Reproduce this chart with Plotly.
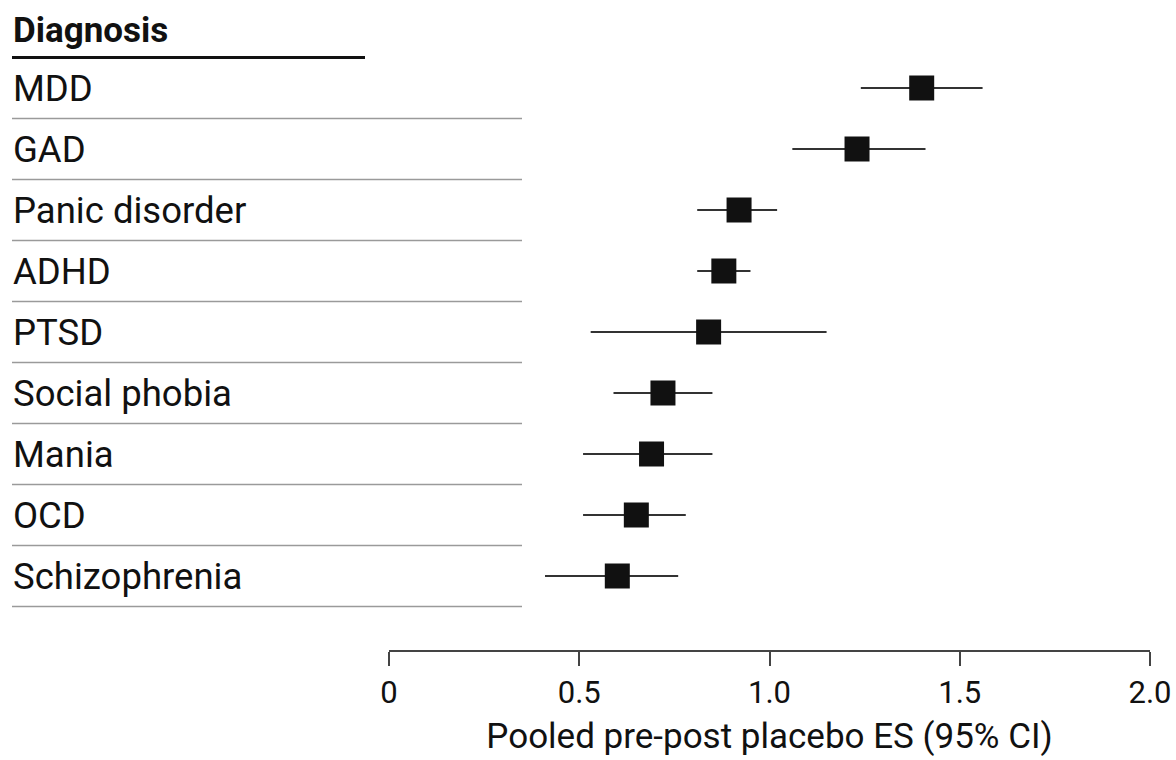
import plotly.graph_objects as go

diagnoses = ["MDD", "GAD", "Panic disorder", "ADHD", "PTSD",
             "Social phobia", "Mania", "OCD", "Schizophrenia"]
es = [1.40, 1.23, 0.92, 0.88, 0.84, 0.72, 0.69, 0.65, 0.60]
ci_low = [1.24, 1.06, 0.81, 0.81, 0.53, 0.59, 0.51, 0.51, 0.41]
ci_high = [1.56, 1.41, 1.02, 0.95, 1.15, 0.85, 0.85, 0.78, 0.76]
tick_vals = [0, 0.5, 1.0, 1.5, 2.0]
tick_text = ["0", "0.5", "1.0", "1.5", "2.0"]
header = "Diagnosis"
x_title = "Pooled pre-post placebo ES (95% CI)"

FONT = "Roboto"
FS_LABEL = 36.5
FS_HEADER = 35
FS_TICK = 31
FS_TITLE = 35
W, H = 1176, 760
L_PX, R_PX = 389, 1150
PLOT_H = 650
ROW0, ROW_STEP = 88, 61
ymax = ROW0 / ROW_STEP
ymin = ymax - PLOT_H / ROW_STEP

def px_to_paper(px):
    return (px - L_PX) / (R_PX - L_PX)

ypos = [-i for i in range(len(diagnoses))]

fig = go.Figure()
fig.add_trace(go.Scatter(
    x=es, y=ypos, mode="markers",
    marker=dict(symbol="square", size=25, color="#111111"),
    error_x=dict(type="data", symmetric=False,
                 array=[h - e for h, e in zip(ci_high, es)],
                 arrayminus=[e - l for e, l in zip(es, ci_low)],
                 color="#333333", thickness=2, width=0),
    showlegend=False, hoverinfo="skip",
))

shapes = []
annotations = []
for i, (name, y) in enumerate(zip(diagnoses, ypos)):
    annotations.append(dict(
        text=name, x=px_to_paper(11), y=y, xref="paper", yref="y",
        xanchor="left", yanchor="middle", showarrow=False,
        font=dict(family=FONT, size=FS_LABEL, color="#111111")))
    shapes.append(dict(
        type="line", xref="paper", yref="y",
        x0=px_to_paper(12), x1=px_to_paper(522), y0=y - 0.5, y1=y - 0.5,
        line=dict(color="#9a9a9a", width=1.6), layer="below"))

annotations.append(dict(
    text="<b>" + header + "</b>", x=px_to_paper(11), y=0.95, xref="paper", yref="y",
    xanchor="left", yanchor="middle", showarrow=False,
    font=dict(family=FONT, size=FS_HEADER, color="#111111")))
shapes.append(dict(
    type="line", xref="paper", yref="y",
    x0=px_to_paper(12), x1=px_to_paper(365), y0=0.5, y1=0.5,
    line=dict(color="#111111", width=3)))

fig.update_layout(
    width=W, height=H,
    margin=dict(l=L_PX, r=W - R_PX, t=0, b=H - PLOT_H),
    paper_bgcolor="white", plot_bgcolor="white",
    shapes=shapes, annotations=annotations,
    xaxis=dict(range=[0, 2], tickvals=tick_vals, ticktext=tick_text,
               showgrid=False, zeroline=False, showline=True,
               linecolor="#444444", linewidth=2,
               ticks="outside", ticklen=14, tickwidth=2, tickcolor="#444444",
               tickfont=dict(family=FONT, size=FS_TICK, color="#111111"),
               title=dict(text=x_title, standoff=13,
                          font=dict(family=FONT, size=FS_TITLE, color="#111111"))),
    yaxis=dict(range=[ymin, ymax], visible=False, showgrid=False, zeroline=False),
)

fig.write_html(
    "out.html",
    config={"displayModeBar": False},
    post_script="document.body.style.margin='0';document.body.style.overflow='hidden';",
)
